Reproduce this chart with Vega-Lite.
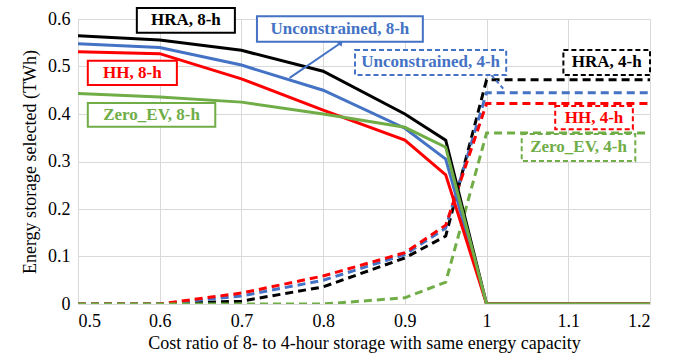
{
  "$schema": "https://vega.github.io/schema/vega-lite/v6.json",
  "autosize": "none",
  "width": 572,
  "height": 285,
  "padding": {"left": 78, "top": 19, "right": 31, "bottom": 58},
  "background": "white",
  "config": {"view": {"stroke": null}, "font": "Times New Roman, DejaVu Serif, serif"},
  "datasets": {
    "lines": [
      {"x": 0.5, "y": 0, "s": "HRA", "h": "4-h"},
      {"x": 0.6, "y": 0, "s": "HRA", "h": "4-h"},
      {"x": 0.7, "y": 0.006, "s": "HRA", "h": "4-h"},
      {"x": 0.8, "y": 0.036, "s": "HRA", "h": "4-h"},
      {"x": 0.9, "y": 0.097, "s": "HRA", "h": "4-h"},
      {"x": 0.95, "y": 0.143, "s": "HRA", "h": "4-h"},
      {"x": 1.0, "y": 0.472, "s": "HRA", "h": "4-h"},
      {"x": 1.1, "y": 0.472, "s": "HRA", "h": "4-h"},
      {"x": 1.2, "y": 0.472, "s": "HRA", "h": "4-h"},
      {"x": 0.5, "y": 0, "s": "Unconstrained", "h": "4-h"},
      {"x": 0.6, "y": 0, "s": "Unconstrained", "h": "4-h"},
      {"x": 0.7, "y": 0.017, "s": "Unconstrained", "h": "4-h"},
      {"x": 0.8, "y": 0.05, "s": "Unconstrained", "h": "4-h"},
      {"x": 0.9, "y": 0.104, "s": "Unconstrained", "h": "4-h"},
      {"x": 0.95, "y": 0.16, "s": "Unconstrained", "h": "4-h"},
      {"x": 1.0, "y": 0.445, "s": "Unconstrained", "h": "4-h"},
      {"x": 1.1, "y": 0.445, "s": "Unconstrained", "h": "4-h"},
      {"x": 1.2, "y": 0.445, "s": "Unconstrained", "h": "4-h"},
      {"x": 0.5, "y": 0, "s": "HH", "h": "4-h"},
      {"x": 0.6, "y": 0, "s": "HH", "h": "4-h"},
      {"x": 0.7, "y": 0.023, "s": "HH", "h": "4-h"},
      {"x": 0.8, "y": 0.059, "s": "HH", "h": "4-h"},
      {"x": 0.9, "y": 0.108, "s": "HH", "h": "4-h"},
      {"x": 0.95, "y": 0.166, "s": "HH", "h": "4-h"},
      {"x": 1.0, "y": 0.422, "s": "HH", "h": "4-h"},
      {"x": 1.1, "y": 0.422, "s": "HH", "h": "4-h"},
      {"x": 1.2, "y": 0.422, "s": "HH", "h": "4-h"},
      {"x": 0.5, "y": 0, "s": "Zero_EV", "h": "4-h"},
      {"x": 0.6, "y": 0, "s": "Zero_EV", "h": "4-h"},
      {"x": 0.7, "y": 0, "s": "Zero_EV", "h": "4-h"},
      {"x": 0.8, "y": 0, "s": "Zero_EV", "h": "4-h"},
      {"x": 0.9, "y": 0.013, "s": "Zero_EV", "h": "4-h"},
      {"x": 0.95, "y": 0.046, "s": "Zero_EV", "h": "4-h"},
      {"x": 1.0, "y": 0.36, "s": "Zero_EV", "h": "4-h"},
      {"x": 1.1, "y": 0.36, "s": "Zero_EV", "h": "4-h"},
      {"x": 1.2, "y": 0.36, "s": "Zero_EV", "h": "4-h"},
      {"x": 0.5, "y": 0.565, "s": "HRA", "h": "8-h"},
      {"x": 0.6, "y": 0.556, "s": "HRA", "h": "8-h"},
      {"x": 0.7, "y": 0.534, "s": "HRA", "h": "8-h"},
      {"x": 0.8, "y": 0.49, "s": "HRA", "h": "8-h"},
      {"x": 0.9, "y": 0.40, "s": "HRA", "h": "8-h"},
      {"x": 0.95, "y": 0.345, "s": "HRA", "h": "8-h"},
      {"x": 1.0, "y": 0, "s": "HRA", "h": "8-h"},
      {"x": 1.1, "y": 0, "s": "HRA", "h": "8-h"},
      {"x": 1.2, "y": 0, "s": "HRA", "h": "8-h"},
      {"x": 0.5, "y": 0.548, "s": "Unconstrained", "h": "8-h"},
      {"x": 0.6, "y": 0.540, "s": "Unconstrained", "h": "8-h"},
      {"x": 0.7, "y": 0.503, "s": "Unconstrained", "h": "8-h"},
      {"x": 0.8, "y": 0.450, "s": "Unconstrained", "h": "8-h"},
      {"x": 0.9, "y": 0.370, "s": "Unconstrained", "h": "8-h"},
      {"x": 0.95, "y": 0.305, "s": "Unconstrained", "h": "8-h"},
      {"x": 1.0, "y": 0, "s": "Unconstrained", "h": "8-h"},
      {"x": 1.1, "y": 0, "s": "Unconstrained", "h": "8-h"},
      {"x": 1.2, "y": 0, "s": "Unconstrained", "h": "8-h"},
      {"x": 0.5, "y": 0.531, "s": "HH", "h": "8-h"},
      {"x": 0.6, "y": 0.527, "s": "HH", "h": "8-h"},
      {"x": 0.7, "y": 0.474, "s": "HH", "h": "8-h"},
      {"x": 0.8, "y": 0.408, "s": "HH", "h": "8-h"},
      {"x": 0.9, "y": 0.345, "s": "HH", "h": "8-h"},
      {"x": 0.95, "y": 0.272, "s": "HH", "h": "8-h"},
      {"x": 1.0, "y": 0, "s": "HH", "h": "8-h"},
      {"x": 1.1, "y": 0, "s": "HH", "h": "8-h"},
      {"x": 1.2, "y": 0, "s": "HH", "h": "8-h"},
      {"x": 0.5, "y": 0.443, "s": "Zero_EV", "h": "8-h"},
      {"x": 0.6, "y": 0.436, "s": "Zero_EV", "h": "8-h"},
      {"x": 0.7, "y": 0.425, "s": "Zero_EV", "h": "8-h"},
      {"x": 0.8, "y": 0.400, "s": "Zero_EV", "h": "8-h"},
      {"x": 0.9, "y": 0.372, "s": "Zero_EV", "h": "8-h"},
      {"x": 0.95, "y": 0.330, "s": "Zero_EV", "h": "8-h"},
      {"x": 1.0, "y": 0, "s": "Zero_EV", "h": "8-h"},
      {"x": 1.1, "y": 0, "s": "Zero_EV", "h": "8-h"},
      {"x": 1.2, "y": 0, "s": "Zero_EV", "h": "8-h"}
    ],
    "labels": [
      {"label": "HRA, 8-h", "s": "HRA", "h": "8-h", "x1": 0.572, "x2": 0.692, "y1": 0.571, "y2": 0.623, "tx": 0.632, "ty": 0.597},
      {"label": "Unconstrained, 8-h", "s": "Unconstrained", "h": "8-h", "x1": 0.719, "x2": 0.922, "y1": 0.552, "y2": 0.606, "tx": 0.8205, "ty": 0.579},
      {"label": "Unconstrained, 4-h", "s": "Unconstrained", "h": "4-h", "x1": 0.839, "x2": 1.024, "y1": 0.482, "y2": 0.535, "tx": 0.9315, "ty": 0.5085},
      {"label": "HRA, 4-h", "s": "HRA", "h": "4-h", "x1": 1.094, "x2": 1.2, "y1": 0.482, "y2": 0.535, "tx": 1.147, "ty": 0.5085},
      {"label": "HH, 8-h", "s": "HH", "h": "8-h", "x1": 0.512, "x2": 0.621, "y1": 0.461, "y2": 0.512, "tx": 0.5665, "ty": 0.4865},
      {"label": "HH, 4-h", "s": "HH", "h": "4-h", "x1": 1.084, "x2": 1.179, "y1": 0.368, "y2": 0.417, "tx": 1.1315, "ty": 0.3925},
      {"label": "Zero_EV, 8-h", "s": "Zero_EV", "h": "8-h", "x1": 0.512, "x2": 0.668, "y1": 0.373, "y2": 0.423, "tx": 0.59, "ty": 0.398},
      {"label": "Zero_EV, 4-h", "s": "Zero_EV", "h": "4-h", "x1": 1.043, "x2": 1.182, "y1": 0.301, "y2": 0.358, "tx": 1.1125, "ty": 0.3295}
    ],
    "leaders": [
      {"s": "Unconstrained", "h": "8-h", "x1": 0.759, "y1": 0.476, "x2": 0.821, "y2": 0.549},
      {"s": "Unconstrained", "h": "4-h", "x1": 1.006, "y1": 0.482, "x2": 1.022, "y2": 0.45}
    ]
  },
  "layer": [
    {
      "data": {"name": "lines"},
      "transform": [{"filter": "datum.h === '4-h'"}],
      "mark": {"type": "line", "strokeWidth": 3, "strokeDash": [8, 5], "clip": true},
      "encoding": {
        "x": {"field": "x", "type": "quantitative", "scale": {"domain": [0.5, 1.2], "nice": false},
          "axis": {"values": [0.5, 0.6, 0.7, 0.8, 0.9, 1.0, 1.1, 1.2], "format": ".1~f", "title": "Cost ratio of 8- to 4-hour storage with same energy capacity",
            "labelFont": "Times New Roman, DejaVu Serif, serif", "labelFontSize": 18, "labelColor": "#000", "titleFont": "Times New Roman, DejaVu Serif, serif", "titleFontSize": 18, "titleFontWeight": "normal", "titleColor": "#000",
            "grid": true, "gridColor": "#d9d9d9", "domainColor": "#d9d9d9", "ticks": false, "labelPadding": 8, "titlePadding": 4}},
        "y": {"field": "y", "type": "quantitative", "scale": {"domain": [0, 0.6], "nice": false},
          "axis": {"values": [0, 0.1, 0.2, 0.3, 0.4, 0.5, 0.6], "format": ".1~f", "title": "Energy storage selected (TWh)",
            "labelFont": "Times New Roman, DejaVu Serif, serif", "labelFontSize": 18, "labelColor": "#000", "titleFont": "Times New Roman, DejaVu Serif, serif", "titleFontSize": 18, "titleFontWeight": "normal", "titleColor": "#000",
            "grid": true, "gridColor": "#d9d9d9", "domainColor": "#d9d9d9", "ticks": false, "labelPadding": 8, "titlePadding": 8}},
        "color": {"field": "s", "type": "nominal", "scale": {"domain": ["HRA", "Unconstrained", "HH", "Zero_EV"], "range": ["#000000", "#4472C4", "#FF0000", "#70AD47"]}, "legend": null},
        "detail": {"field": "s"}
      }
    },
    {
      "data": {"name": "lines"},
      "transform": [{"filter": "datum.h === '8-h'"}],
      "mark": {"type": "line", "strokeWidth": 3, "clip": true},
      "encoding": {
        "x": {"field": "x", "type": "quantitative"},
        "y": {"field": "y", "type": "quantitative"},
        "color": {"field": "s", "type": "nominal", "legend": null}
      }
    },
    {
      "data": {"name": "leaders"},
      "transform": [{"filter": "datum.h === '8-h'"}],
      "mark": {"type": "rule", "strokeWidth": 2},
      "encoding": {
        "x": {"field": "x1", "type": "quantitative"},
        "y": {"field": "y1", "type": "quantitative"},
        "x2": {"field": "x2"},
        "y2": {"field": "y2"},
        "color": {"field": "s", "type": "nominal", "legend": null}
      }
    },
    {
      "data": {"name": "leaders"},
      "transform": [{"filter": "datum.h === '4-h'"}],
      "mark": {"type": "rule", "strokeWidth": 2, "strokeDash": [4, 3]},
      "encoding": {
        "x": {"field": "x1", "type": "quantitative"},
        "y": {"field": "y1", "type": "quantitative"},
        "x2": {"field": "x2"},
        "y2": {"field": "y2"},
        "color": {"field": "s", "type": "nominal", "legend": null}
      }
    },
    {
      "data": {"name": "leaders"},
      "transform": [{"filter": "datum.h === '8-h'"}],
      "mark": {"type": "point", "shape": "triangle", "filled": true, "size": 40, "angle": 40, "opacity": 1},
      "encoding": {
        "x": {"field": "x2", "type": "quantitative"},
        "y": {"field": "y2", "type": "quantitative"},
        "color": {"field": "s", "type": "nominal", "legend": null}
      }
    },
    {
      "data": {"name": "labels"},
      "transform": [{"filter": "datum.h === '8-h'"}],
      "mark": {"type": "rect", "fill": "white", "strokeWidth": 2, "clip": false},
      "encoding": {
        "x": {"field": "x1", "type": "quantitative"},
        "x2": {"field": "x2"},
        "y": {"field": "y1", "type": "quantitative"},
        "y2": {"field": "y2"},
        "stroke": {"field": "s", "type": "nominal", "scale": {"domain": ["HRA", "Unconstrained", "HH", "Zero_EV"], "range": ["#000000", "#4472C4", "#FF0000", "#70AD47"]}, "legend": null}
      }
    },
    {
      "data": {"name": "labels"},
      "transform": [{"filter": "datum.h === '4-h'"}],
      "mark": {"type": "rect", "fill": "white", "strokeWidth": 2, "strokeDash": [5, 3], "clip": false},
      "encoding": {
        "x": {"field": "x1", "type": "quantitative"},
        "x2": {"field": "x2"},
        "y": {"field": "y1", "type": "quantitative"},
        "y2": {"field": "y2"},
        "stroke": {"field": "s", "type": "nominal", "legend": null}
      }
    },
    {
      "data": {"name": "labels"},
      "mark": {"type": "text", "font": "Times New Roman, DejaVu Serif, serif", "fontWeight": "bold", "fontSize": 17, "align": "center", "baseline": "middle", "clip": false},
      "encoding": {
        "x": {"field": "tx", "type": "quantitative"},
        "y": {"field": "ty", "type": "quantitative"},
        "text": {"field": "label"},
        "color": {"field": "s", "type": "nominal", "legend": null}
      }
    }
  ]
}
